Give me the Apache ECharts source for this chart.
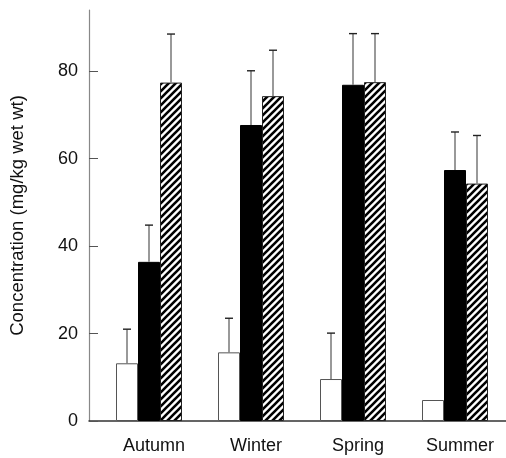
<!DOCTYPE html>
<html>
<head>
<meta charset="utf-8">
<script src="https://cdn.jsdelivr.net/npm/echarts@6/dist/echarts.min.js"></script>
<style>
html,body{margin:0;padding:0;background:#fff;}
#chart{width:506px;height:458px;}
</style>
</head>
<body>
<div id="chart"></div>
<script>
// ---- data ----
const categories = ['Autumn', 'Winter', 'Spring', 'Summer'];
const whiteMean = [13.2, 15.7, 9.6, 4.8];
const whiteErr  = [7.8, 7.8, 10.5, null];
const blackMean = [36.4, 67.7, 76.9, 57.4];
const blackErr  = [8.4, 12.4, 11.7, 8.7];
const hatchMean = [77.4, 74.3, 77.5, 54.3];
const hatchErr  = [11.1, 10.5, 11.1, 11.0];
const yMin = 0, yMax = 94, yInterval = 20;
const yTitle = 'Concentration (mg/kg wet wt)';

// ---- style ----
const BAR_W = 22;
const FONT = '"Liberation Sans", Arial, Helvetica, sans-serif';

function hatchPattern() {
  const s = 7;
  const c = document.createElement('canvas');
  c.width = s; c.height = s;
  const ctx = c.getContext('2d');
  ctx.fillStyle = '#fff';
  ctx.fillRect(0, 0, s, s);
  ctx.strokeStyle = '#000';
  ctx.lineWidth = 2.6;
  ctx.beginPath();
  ctx.moveTo(-1, s + 1); ctx.lineTo(s + 1, -1);
  ctx.moveTo(-1, 1); ctx.lineTo(1, -1);
  ctx.moveTo(s - 1, s + 1); ctx.lineTo(s + 1, s - 1);
  ctx.stroke();
  return c;
}

const errData = [];
[[whiteMean, whiteErr], [blackMean, blackErr], [hatchMean, hatchErr]].forEach(function (pair, slot) {
  pair[0].forEach(function (m, i) {
    if (pair[1][i] != null) errData.push([i, m, pair[1][i], slot]);
  });
});

const chart = echarts.init(document.getElementById('chart'), null, {renderer: 'canvas'});
chart.setOption({
  animation: false,
  backgroundColor: '#fff',
  textStyle: {fontFamily: FONT},
  grid: [
    {left: 98, width: 410.7, top: 10, bottom: 37},
    {left: 89, right: 0, top: 10, bottom: 37}
  ],
  xAxis: [
    {
      type: 'category', gridIndex: 0, data: categories,
      axisLine: {show: false}, axisTick: {show: false},
      axisLabel: {color: '#111', fontSize: 18, fontFamily: FONT, margin: 16, padding: [0, 0, 0, 10]}
    },
    {
      type: 'value', gridIndex: 1, min: 0, max: 1,
      axisLine: {show: true, lineStyle: {color: '#333', width: 1.5}},
      axisTick: {show: false}, axisLabel: {show: false}, splitLine: {show: false}
    }
  ],
  yAxis: [
    {type: 'value', gridIndex: 0, min: yMin, max: yMax, show: false, splitLine: {show: false}},
    {
      type: 'value', gridIndex: 1, min: yMin, max: yMax, interval: yInterval,
      name: yTitle, nameLocation: 'middle', nameGap: 62,
      nameTextStyle: {color: '#111', fontSize: 18.5, fontFamily: FONT},
      axisLine: {show: true, lineStyle: {color: '#888', width: 1.2}},
      axisTick: {show: true, inside: true, length: 9, lineStyle: {color: '#555'}},
      axisLabel: {color: '#111', fontSize: 18, fontFamily: FONT, margin: 11, showMaxLabel: false},
      splitLine: {show: false}
    }
  ],
  series: [
    {
      type: 'bar', xAxisIndex: 0, yAxisIndex: 0, data: whiteMean,
      barWidth: BAR_W, barGap: '0%',
      itemStyle: {color: '#fff', borderColor: '#555', borderWidth: 1}
    },
    {
      type: 'bar', xAxisIndex: 0, yAxisIndex: 0, data: blackMean,
      barWidth: BAR_W, barGap: '0%',
      itemStyle: {color: '#000', borderColor: '#000', borderWidth: 1}
    },
    {
      type: 'bar', xAxisIndex: 0, yAxisIndex: 0, data: hatchMean,
      barWidth: BAR_W, barGap: '0%',
      itemStyle: {color: {image: hatchPattern(), repeat: 'repeat'}, borderColor: '#222', borderWidth: 1}
    },
    {
      type: 'custom', xAxisIndex: 0, yAxisIndex: 0, z: 5, data: errData,
      renderItem: function (params, api) {
        const cat = api.value(0), mean = api.value(1), err = api.value(2), slot = api.value(3);
        const base = api.coord([cat, mean]);
        const top = api.coord([cat, mean + err]);
        const x = base[0] + (slot - 1) * BAR_W;
        return {
          type: 'group',
          children: [
            {type: 'line', shape: {x1: x, y1: base[1], x2: x, y2: top[1]}, style: {stroke: '#555', lineWidth: 1.2}},
            {type: 'line', shape: {x1: x - 4, y1: top[1], x2: x + 4, y2: top[1]}, style: {stroke: '#222', lineWidth: 1.4}}
          ]
        };
      }
    }
  ]
});
</script>
</body>
</html>
